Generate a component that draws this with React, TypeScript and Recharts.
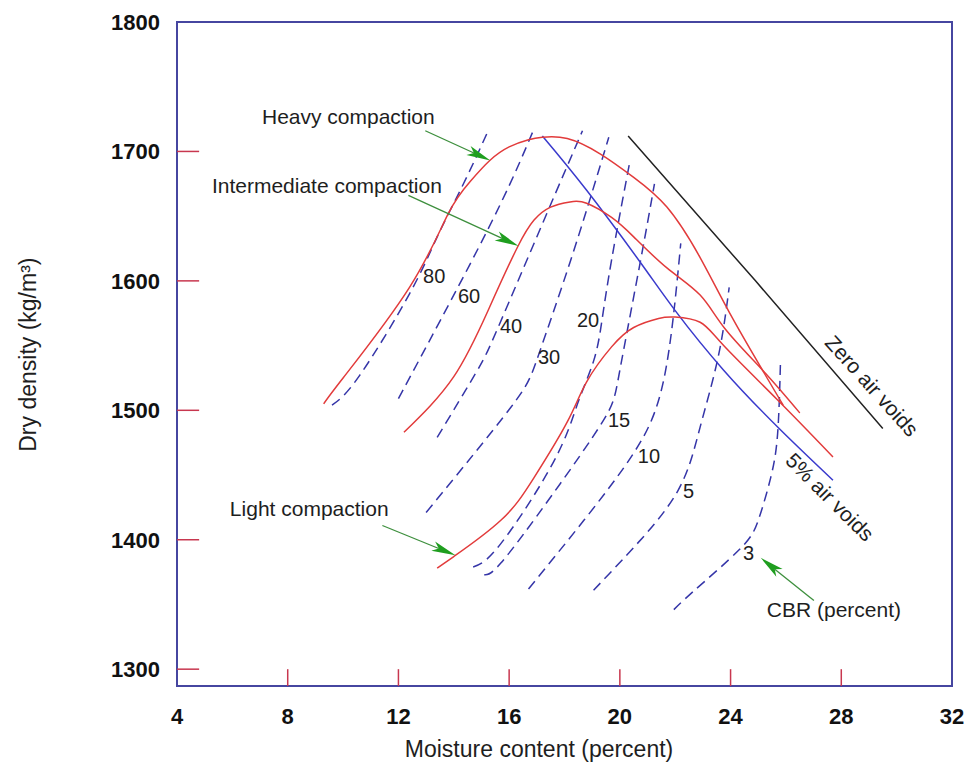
import React from "react";
import {
  LineChart,
  Line,
  XAxis,
  YAxis,
  ReferenceLine,
  ReferenceArea,
  ReferenceDot,
} from "recharts";

type Pt = [number, number];

// compaction curves: [moisture %, dry density kg/m3]
const heavyCurve: Pt[] = [
  [9.3, 1505], [10.0, 1525], [12.4, 1595], [13.8, 1652], [14.6, 1677],
  [15.3, 1693], [16.0, 1703.5], [16.7, 1709], [17.2, 1711], [18.1, 1710],
  [19.3, 1698], [20.5, 1680], [21.7, 1657], [22.9, 1618], [24.1, 1570],
  [25.9, 1504],
];
const intermediateCurve: Pt[] = [
  [12.2, 1483], [14.0, 1526], [15.3, 1580], [16.3, 1626], [16.9, 1647],
  [17.5, 1657], [18.2, 1661], [18.8, 1660], [19.7, 1649], [20.5, 1634],
  [21.7, 1610], [22.9, 1589], [23.8, 1563], [25.2, 1530], [26.5, 1498],
];
const lightCurve: Pt[] = [
  [13.4, 1378], [14.0, 1387], [15.7, 1415], [16.9, 1448], [18.1, 1491],
  [18.8, 1522], [19.7, 1549], [20.5, 1564], [21.4, 1571], [22.0, 1572],
  [22.9, 1568], [23.75, 1550], [25.7, 1508], [27.7, 1464],
];
const zeroAirVoids: Pt[] = [[20.3, 1712], [24.9, 1600], [29.5, 1486]];
const fiveAirVoids: Pt[] = [
  [17.2, 1712], [18.8, 1670], [20.75, 1614], [22.0, 1577], [23.75, 1531],
  [25.8, 1485], [27.7, 1446],
];

// CBR contours
const cbr80: Pt[] = [[9.6, 1504], [10.6, 1527], [12.4, 1590], [13.4, 1634], [14.35, 1675], [15.2, 1714]];
const cbr60: Pt[] = [[12.0, 1509], [12.5, 1529], [13.95, 1587], [15.7, 1660], [16.85, 1715]];
const cbr40: Pt[] = [[13.4, 1479], [14.8, 1529], [15.6, 1564], [17.3, 1649], [18.65, 1716]];
const cbr30: Pt[] = [[13.0, 1421], [16.05, 1502], [17.05, 1542], [18.3, 1621], [19.6, 1711]];
const cbr20: Pt[] = [[14.7, 1379], [15.7, 1397], [17.6, 1460], [18.47, 1505], [19.05, 1538], [19.35, 1569], [19.7, 1616], [20.35, 1691]];
const cbr15: Pt[] = [[15.1, 1373], [15.7, 1382], [17.5, 1433], [19.4, 1492], [20.0, 1531], [20.75, 1616], [21.25, 1675]];
const cbr10: Pt[] = [[16.7, 1362], [18.7, 1415], [20.5, 1467], [21.6, 1525], [22.2, 1629]];
const cbr5: Pt[] = [[19.05, 1361], [20.5, 1394], [22.1, 1438], [22.9, 1487], [23.55, 1541], [23.95, 1595]];
const cbr3: Pt[] = [[21.95, 1346], [22.65, 1360], [24.3, 1392], [25.0, 1415], [25.45, 1448], [25.7, 1482], [25.8, 1535]];

const cbrLines = [cbr80, cbr60, cbr40, cbr30, cbr20, cbr15, cbr10, cbr5, cbr3];
const cbrLabels = ["80", "60", "40", "30", "20", "15", "10", "5", "3"];
const cbrLabelPos: Pt[] = [
  [12.89, 1598], [14.15, 1583], [15.67, 1560], [17.04, 1536], [18.45, 1564],
  [19.57, 1487], [20.65, 1459], [22.28, 1432], [24.45, 1384],
];

const noteTexts = ["Heavy compaction", "Intermediate compaction", "Light compaction", "CBR (percent)"];
const notePos: Pt[] = [[7.07, 1721], [5.26, 1668], [5.91, 1418], [25.31, 1340]];
const arrowFrom: Pt[] = [[12.97, 1716], [12.36, 1666], [11.42, 1411], [27.01, 1353]];
const arrowTo: Pt[] = [[15.32, 1693], [16.34, 1627], [14.06, 1388], [25.09, 1386]];

const xTicks = [4, 8, 12, 16, 20, 24, 28, 32];
const yTicks = [1300, 1400, 1500, 1600, 1700, 1800];
const innerXTicks = [8, 12, 16, 20, 24, 28];
const innerYTicks = [1300, 1400, 1500, 1600, 1700];

const FONT = '"Liberation Sans", Arial, sans-serif';
const RED = "#e23b3b";
const DASH_BLUE = "#3535a8";
const BORDER = "#4646a0";
const TICK_RED = "#c8374f";

const toData = (pts: Pt[]) => pts.map(([x, y]) => ({ x, y }));

const Arrow = (p: any) => {
  const { x1, y1, x2, y2 } = p;
  const dx = x2 - x1;
  const dy = y2 - y1;
  const len = Math.hypot(dx, dy) || 1;
  const ux = dx / len;
  const uy = dy / len;
  const head = 24;
  const half = 5;
  const bx = x2 - ux * head;
  const by = y2 - uy * head;
  const pts = `${x2},${y2} ${bx - uy * half},${by + ux * half} ${bx + ux * 6},${by + uy * 6} ${bx + uy * half},${by - ux * half}`;
  return (
    <g>
      <line x1={x1} y1={y1} x2={bx + ux * 6} y2={by + uy * 6} stroke="#3d8f3d" strokeWidth={1.3} />
      <polygon points={pts} fill="#1f9e1f" />
    </g>
  );
};

const textShape =
  (value: string, opts: { size?: number; anchor?: string; rotate?: number } = {}) =>
  (p: any) => (
    <text
      x={p.cx}
      y={p.cy}
      fontFamily={FONT}
      fontSize={opts.size ?? 21}
      fill="#1e1e1e"
      textAnchor={opts.anchor ?? "start"}
      dominantBaseline={opts.rotate !== undefined ? "central" : "auto"}
      transform={opts.rotate !== undefined ? `rotate(${opts.rotate} ${p.cx} ${p.cy})` : undefined}
    >
      {value}
    </text>
  );

const curveProps = {
  dataKey: "y",
  type: "natural" as const,
  dot: false,
  activeDot: false,
  isAnimationActive: false,
};

export default function App() {
  return (
    <div style={{ position: "absolute", left: 0, top: 0, background: "#fff" }}>
      <LineChart
        width={970}
        height={776}
        margin={{ top: 22, right: 18, left: 117, bottom: 0 }}
      >
        <XAxis
          type="number"
          dataKey="x"
          domain={[4, 32]}
          ticks={xTicks}
          interval={0}
          allowDataOverflow
          axisLine={false}
          tickLine={false}
          tickSize={0}
          tickMargin={22}
          height={90}
          tick={{ fontSize: 22, fontWeight: 700, fill: "#111", fontFamily: FONT }}
        />
        <YAxis
          type="number"
          domain={[1287, 1800]}
          ticks={yTicks}
          interval={0}
          allowDataOverflow
          axisLine={false}
          tickLine={false}
          tickSize={0}
          tickMargin={17}
          width={60}
          tick={{ fontSize: 22, fontWeight: 700, fill: "#111", fontFamily: FONT }}
        />

        <ReferenceArea
          x1={4}
          x2={32}
          y1={1287}
          y2={1800}
          fill="none"
          stroke={BORDER}
          strokeWidth={2}
          ifOverflow="visible"
        />
        {innerYTicks.map((v) => (
          <ReferenceLine
            key={`yt-${v}`}
            segment={[{ x: 4, y: v }, { x: 4.8, y: v }]}
            stroke={TICK_RED}
            strokeWidth={1.5}
            ifOverflow="visible"
          />
        ))}
        {innerXTicks.map((v) => (
          <ReferenceLine
            key={`xt-${v}`}
            segment={[{ x: v, y: 1287 }, { x: v, y: 1300 }]}
            stroke={TICK_RED}
            strokeWidth={1.5}
            ifOverflow="visible"
          />
        ))}

        {cbrLines.map((pts, i) => (
          <Line
            key={`cbr-${cbrLabels[i]}`}
            data={toData(pts)}
            {...curveProps}
            stroke={DASH_BLUE}
            strokeWidth={1.5}
            strokeDasharray="10 6"
          />
        ))}

        <Line data={toData(zeroAirVoids)} {...curveProps} stroke="#222" strokeWidth={1.5} />
        <Line data={toData(fiveAirVoids)} {...curveProps} stroke="#3a3acc" strokeWidth={1.5} />
        <Line data={toData(heavyCurve)} {...curveProps} stroke={RED} strokeWidth={1.5} />
        <Line data={toData(intermediateCurve)} {...curveProps} stroke={RED} strokeWidth={1.5} />
        <Line data={toData(lightCurve)} {...curveProps} stroke={RED} strokeWidth={1.5} />

        {arrowFrom.map((f, i) => (
          <ReferenceLine
            key={`arrow-${i}`}
            segment={[{ x: f[0], y: f[1] }, { x: arrowTo[i][0], y: arrowTo[i][1] }]}
            shape={Arrow}
            ifOverflow="visible"
          />
        ))}

        {cbrLabels.map((t, i) => (
          <ReferenceDot
            key={`lbl-${t}`}
            x={cbrLabelPos[i][0]}
            y={cbrLabelPos[i][1]}
            ifOverflow="visible"
            shape={textShape(t, { size: 20 })}
          />
        ))}
        {noteTexts.map((t, i) => (
          <ReferenceDot
            key={`note-${i}`}
            x={notePos[i][0]}
            y={notePos[i][1]}
            ifOverflow="visible"
            shape={textShape(t)}
          />
        ))}
        <ReferenceDot x={29.11} y={1519} ifOverflow="visible" shape={textShape("Zero air voids", { anchor: "middle", rotate: 48 })} />
        <ReferenceDot x={27.59} y={1433} ifOverflow="visible" shape={textShape("5% air voids", { anchor: "middle", rotate: 45 })} />

        <ReferenceDot x={-1.38} y={1543} ifOverflow="visible" shape={textShape("Dry density (kg/m³)", { anchor: "middle", rotate: -90, size: 23 })} />
        <ReferenceDot x={17.08} y={1232} ifOverflow="visible" shape={textShape("Moisture content (percent)", { anchor: "middle", size: 23 })} />
      </LineChart>
    </div>
  );
}
